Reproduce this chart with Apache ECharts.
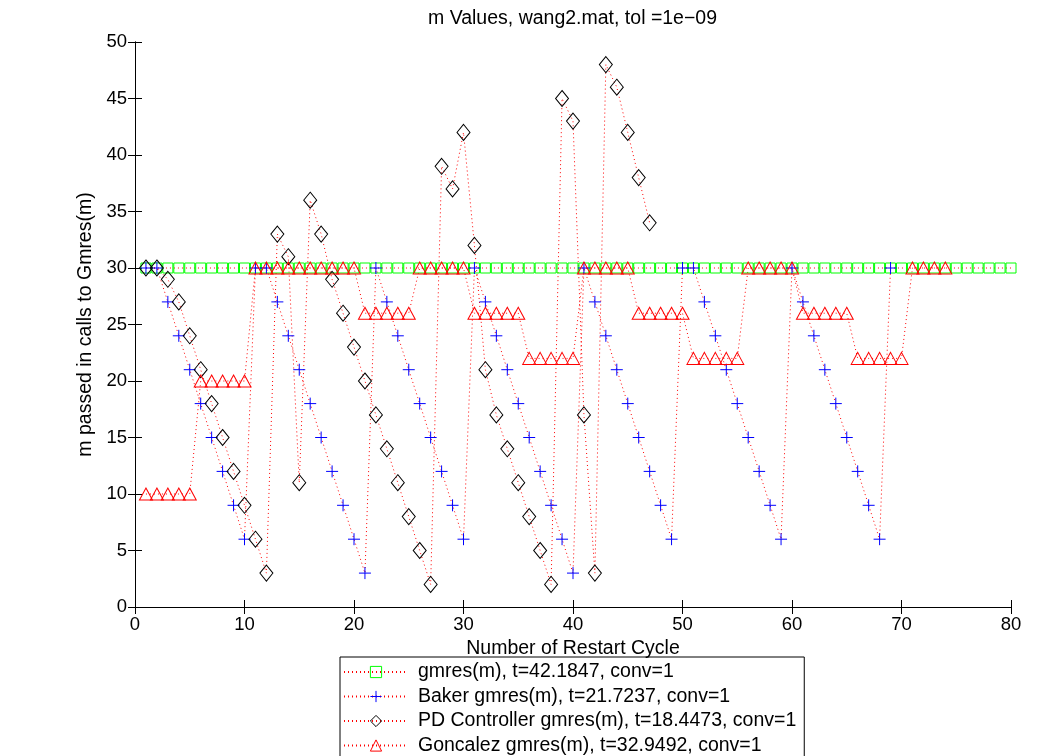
<!DOCTYPE html>
<html>
<head>
<meta charset="utf-8">
<title>m Values</title>
<script src="https://cdn.jsdelivr.net/npm/echarts@6/dist/echarts.min.js"></script>
<style>
html,body{margin:0;padding:0;background:#fff;}
#chart{width:1047px;height:756px;}
</style>
</head>
<body>
<div id="chart"></div>
<script>
// m passed to gmres(m) at each restart cycle (cycle = index + 1)
var gmresM = [30,30,30,30,30,30,30,30,30,30, 30,30,30,30,30,30,30,30,30,30,
              30,30,30,30,30,30,30,30,30,30, 30,30,30,30,30,30,30,30,30,30,
              30,30,30,30,30,30,30,30,30,30, 30,30,30,30,30,30,30,30,30,30,
              30,30,30,30,30,30,30,30,30,30, 30,30,30,30,30,30,30,30,30,30];
var bakerM = [30,30,27,24,21,18,15,12,9,6, 30,30,27,24,21,18,15,12,9,6,
              3,30,27,24,21,18,15,12,9,6, 30,27,24,21,18,15,12,9,6,3,
              30,27,24,21,18,15,12,9,6,30, 30,27,24,21,18,15,12,9,6,30,
              27,24,21,18,15,12,9,6,30];
var pdM = [30,30,29,27,24,21,18,15,12,9, 6,3,33,31,11,36,33,29,26,23,
           20,17,14,11,8,5,2,39,37,42, 32,21,17,14,11,8,5,2,45,43,
           17,3,48,46,42,38,34];
var goncalezM = [10,10,10,10,10,20,20,20,20,20, 30,30,30,30,30,30,30,30,30,30,
                 26,26,26,26,26,30,30,30,30,30, 26,26,26,26,26,22,22,22,22,22,
                 30,30,30,30,30,26,26,26,26,26, 22,22,22,22,22,30,30,30,30,30,
                 26,26,26,26,26,22,22,22,22,22, 30,30,30,30];

var names = ['gmres(m), t=42.1847, conv=1',
             'Baker gmres(m), t=21.7237, conv=1',
             'PD Controller gmres(m), t=18.4473, conv=1',
             'Goncalez gmres(m), t=32.9492, conv=1'];

function pts(arr){
    return arr.map(function(v,i){ return [i+1, v]; });
}

var font = 'Liberation Sans, Arial, Helvetica, sans-serif';
var dotLine = {color:'#ff0000', width:1, type:[1,3]};

function mk(name, data, symbol, size, color){
    return {
        name:name,
        type:'line',
        data:pts(data),
        symbol:symbol,
        symbolSize:size,
        showAllSymbol:true,
        animation:false,
        lineStyle:dotLine,
        itemStyle:{color:'rgba(0,0,0,0)', borderColor:color, borderWidth:1},
        emphasis:{disabled:true}
    };
}

var myChart = echarts.init(document.getElementById('chart'));
var option = {
    backgroundColor:'#fff',
    animation:false,
    textStyle:{fontFamily:font},
    title:{
        text:'m Values, wang2.mat, tol =1e\u221209',
        left:572.5,
        top:9,
        padding:0,
        textAlign:'center',
        textStyle:{fontSize:19.5, fontWeight:'normal', color:'#000', fontFamily:font}
    },
    grid:{left:135, right:36, top:42, bottom:149},
    legend:{
        orient:'vertical',
        left:340,
        top:657,
        height:140,
        itemWidth:64,
        itemHeight:14,
        itemGap:4.5,
        padding:[5,8,5,3],
        borderColor:'#000',
        borderWidth:1,
        itemStyle:{borderWidth:1},
        textStyle:{fontSize:19.5, lineHeight:19, color:'#000', fontFamily:font, padding:[0,0,0,5]},
        data:names
    },
    xAxis:[{
        type:'value', min:0, max:80, interval:10,
        name:'Number of Restart Cycle', nameLocation:'middle', nameGap:29,
        nameTextStyle:{fontSize:19.5, color:'#000'},
        axisLine:{lineStyle:{color:'#000'}},
        axisTick:{inside:true, length:7, lineStyle:{color:'#000'}},
        axisLabel:{fontSize:18.5, color:'#000', margin:8},
        splitLine:{show:false}
    },{
        type:'value', min:0, max:80, interval:10, position:'top',
        axisLine:{lineStyle:{color:'#000'}},
        axisTick:{inside:true, length:7, lineStyle:{color:'#000'}},
        axisLabel:{show:false},
        splitLine:{show:false}
    }],
    yAxis:[{
        type:'value', min:0, max:50, interval:5,
        name:'m passed in calls to Gmres(m)', nameLocation:'middle', nameGap:34,
        nameTextStyle:{fontSize:19.5, color:'#000'},
        axisLine:{show:true, lineStyle:{color:'#000'}},
        axisTick:{show:true, inside:true, length:7, lineStyle:{color:'#000'}},
        axisLabel:{fontSize:18.5, color:'#000', margin:8},
        splitLine:{show:false}
    },{
        type:'value', min:0, max:50, interval:5, position:'right',
        axisLine:{show:true, lineStyle:{color:'#000'}},
        axisTick:{show:true, inside:true, length:7, lineStyle:{color:'#000'}},
        axisLabel:{show:false},
        splitLine:{show:false}
    }],
    series:[
        mk(names[0], gmresM, 'rect', 10, '#00ff00'),
        mk(names[1], bakerM, 'path://M0,5L10,5M5,0L5,10', 12, '#0000ff'),
        mk(names[2], pdM, 'diamond', [13,16], '#000000'),
        mk(names[3], goncalezM, 'triangle', [13,12], '#ff0000')
    ]
};
myChart.setOption(option);
</script>
</body>
</html>
